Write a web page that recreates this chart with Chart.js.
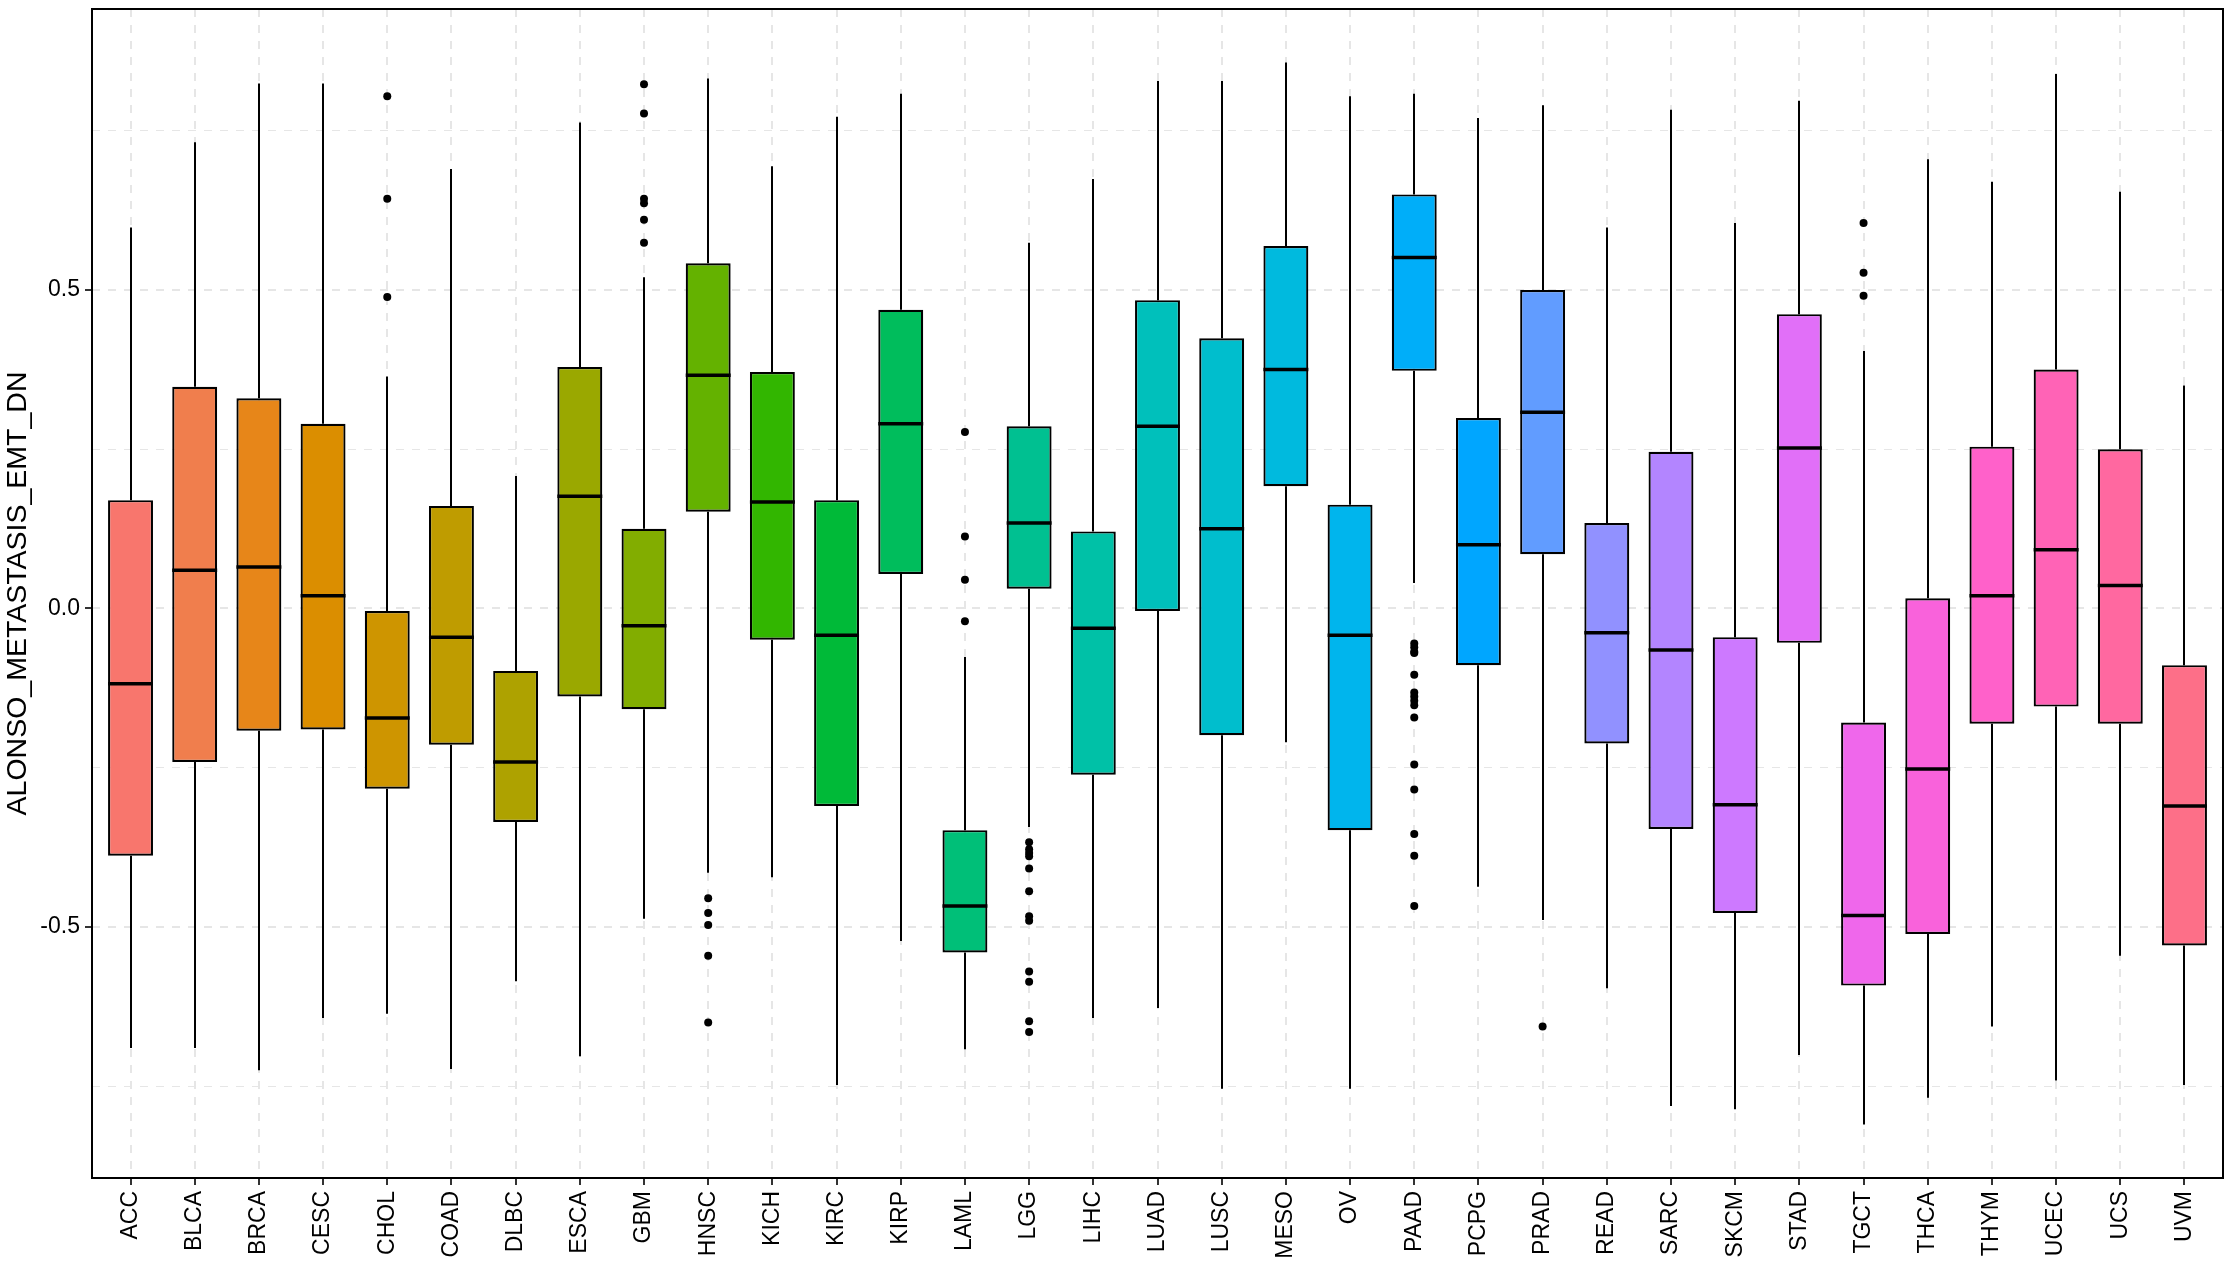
<!DOCTYPE html>
<html><head><meta charset="utf-8">
<script src="https://cdn.jsdelivr.net/npm/chart.js@4"></script>
<style>html,body{margin:0;padding:0;background:#fff}#c{display:block}</style>
</head><body>
<canvas id="c" width="2230" height="1275"></canvas>
<script>
const categories = ['ACC','BLCA','BRCA','CESC','CHOL','COAD','DLBC','ESCA','GBM','HNSC','KICH','KIRC','KIRP','LAML','LGG','LIHC','LUAD','LUSC','MESO','OV','PAAD','PCPG','PRAD','READ','SARC','SKCM','STAD','TGCT','THCA','THYM','UCEC','UCS','UVM'];
const whiskerLow  = [-0.690,-0.690,-0.725,-0.643,-0.636,-0.723,-0.585,-0.703,-0.487,-0.415,-0.422,-0.748,-0.522,-0.692,-0.343,-0.643,-0.627,-0.754,-0.210,-0.754,0.040,-0.437,-0.489,-0.596,-0.781,-0.786,-0.701,-0.810,-0.768,-0.656,-0.741,-0.545,-0.748];
const q1Values    = [-0.388,-0.241,-0.192,-0.190,-0.283,-0.214,-0.335,-0.138,-0.158,0.152,-0.049,-0.310,0.054,-0.540,0.031,-0.261,-0.004,-0.199,0.192,-0.348,0.373,-0.089,0.085,-0.212,-0.346,-0.478,-0.054,-0.592,-0.511,-0.181,-0.154,-0.181,-0.529];
const medianValues= [-0.118,0.060,0.065,0.020,-0.172,-0.045,-0.241,0.176,-0.027,0.366,0.167,-0.042,0.290,-0.467,0.134,-0.031,0.286,0.125,0.375,-0.042,0.551,0.100,0.308,-0.038,-0.065,-0.308,0.252,-0.482,-0.252,0.020,0.092,0.036,-0.310];
const q3Values    = [0.170,0.348,0.330,0.290,-0.004,0.161,-0.098,0.379,0.125,0.542,0.371,0.170,0.469,-0.348,0.286,0.121,0.484,0.424,0.569,0.163,0.650,0.299,0.500,0.134,0.246,-0.045,0.462,-0.179,0.016,0.254,0.375,0.250,-0.089];
const whiskerHigh = [0.598,0.732,0.824,0.824,0.364,0.690,0.208,0.763,0.520,0.832,0.694,0.772,0.808,-0.076,0.574,0.674,0.828,0.828,0.857,0.804,0.808,0.770,0.790,0.598,0.783,0.605,0.797,0.404,0.705,0.670,0.839,0.654,0.350];
const outlierValues = [
  [],[],[],[],
  [0.804,0.643,0.489],
  [],[],[],
  [0.823,0.777,0.643,0.636,0.610,0.574],
  [-0.455,-0.478,-0.497,-0.545,-0.650],
  [],[],[],
  [0.277,0.113,0.045,-0.020],
  [-0.367,-0.378,-0.384,-0.389,-0.408,-0.444,-0.483,-0.490,-0.570,-0.586,-0.648,-0.665],
  [],[],[],[],[],
  [-0.055,-0.061,-0.068,-0.070,-0.104,-0.132,-0.138,-0.145,-0.152,-0.171,-0.245,-0.284,-0.354,-0.388,-0.467],
  [],
  [-0.656],
  [],[],[],[],
  [0.605,0.527,0.491],
  [],[],[],[],[]
];
const yTickValues = [-0.75,-0.5,-0.25,0,0.25,0.5,0.75];
const yLabelValues = [-0.5,0,0.5];
const yLabelTexts = ['-0.5','0.0','0.5'];
const yAxisTitle = 'ALONSO_METASTASIS_EMT_DN';

// ggplot2 default hue palette (hcl, c=100, l=65)
function hcl(h, c, l) {
  const WY = 100, Wu = 0.1978398, Wv = 0.4683363;
  const hr = h * Math.PI / 180;
  const U = c * Math.cos(hr), V = c * Math.sin(hr);
  const Y = WY * (l > 7.999592 ? Math.pow((l + 16) / 116, 3) : l / 903.3);
  const u = U / (13 * l) + Wu, v = V / (13 * l) + Wv;
  const X = 9 * Y * u / (4 * v);
  const Z = -X / 3 - 5 * Y + 3 * Y / v;
  const g = t => t > 0.00304 ? 1.055 * Math.pow(t, 1 / 2.4) - 0.055 : 12.92 * t;
  const to = t => Math.round(Math.max(0, Math.min(1, g(t))) * 255);
  const r = to((3.240479 * X - 1.537150 * Y - 0.498535 * Z) / WY);
  const gg = to((-0.969256 * X + 1.875992 * Y + 0.041556 * Z) / WY);
  const b = to((0.055648 * X - 0.204043 * Y + 1.057311 * Z) / WY);
  return `rgb(${r},${gg},${b})`;
}
const n = categories.length;
const fillColors = categories.map((_, i) => hcl(15 + 360 * i / n, 100, 65));

const boxData = categories.map((c, i) => ({x: i, y: [q1Values[i], q3Values[i]]}));
const outlierData = [];
outlierValues.forEach((arr, i) => arr.forEach(v => outlierData.push({x: i, y: v})));

const FONT = "'Liberation Sans', Arial, sans-serif";

const boxParts = {
  id: 'boxParts',
  beforeDatasetsDraw(chart) {
    const {ctx, scales: {x, y}} = chart;
    ctx.save();
    ctx.strokeStyle = '#000';
    ctx.lineWidth = 2;
    categories.forEach((c, i) => {
      const px = Math.round(x.getPixelForValue(i));
      ctx.beginPath();
      ctx.moveTo(px, y.getPixelForValue(q3Values[i]));
      ctx.lineTo(px, y.getPixelForValue(whiskerHigh[i]));
      ctx.moveTo(px, y.getPixelForValue(q1Values[i]));
      ctx.lineTo(px, y.getPixelForValue(whiskerLow[i]));
      ctx.stroke();
    });
    ctx.restore();
  },
  afterDatasetsDraw(chart) {
    const {ctx, scales: {y}, chartArea: a} = chart;
    const meta = chart.getDatasetMeta(0);
    ctx.save();
    ctx.strokeStyle = '#000';
    ctx.lineWidth = 3.5;
    meta.data.forEach((bar, i) => {
      const py = y.getPixelForValue(medianValues[i]);
      ctx.beginPath();
      ctx.moveTo(bar.x - bar.width / 2, py);
      ctx.lineTo(bar.x + bar.width / 2, py);
      ctx.stroke();
    });
    ctx.lineWidth = 2;
    ctx.strokeRect(a.left, a.top, a.right - a.left, a.bottom - a.top);
    ctx.restore();
  }
};

const zeroPad = s => { s.paddingTop = 0; s.paddingBottom = 0; s.paddingLeft = 0; s.paddingRight = 0; };

new Chart(document.getElementById('c'), {
  type: 'bar',
  data: {
    datasets: [
      {
        type: 'bar',
        data: boxData,
        backgroundColor: fillColors,
        borderColor: '#000',
        borderWidth: 2.2,
        borderSkipped: false,
        barPercentage: 0.7,
        categoryPercentage: 1,
        order: 1
      },
      {
        type: 'scatter',
        data: outlierData,
        backgroundColor: '#000',
        borderWidth: 0,
        pointRadius: 4,
        showLine: false,
        order: 0
      }
    ]
  },
  options: {
    responsive: false,
    animation: false,
    devicePixelRatio: 1,
    layout: {padding: {top: 9, right: 7, left: 0, bottom: 0}},
    plugins: {legend: {display: false}, tooltip: {enabled: false}},
    scales: {
      x: {
        type: 'linear',
        min: -0.6, max: 32.6,
        offset: false,
        afterBuildTicks: s => { s.ticks = categories.map((c, i) => ({value: i})); },
        afterFit: s => { s.height = 97; zeroPad(s); },
        ticks: {
          autoSkip: false,
          minRotation: 90, maxRotation: 90,
          padding: 6,
          color: '#000',
          font: {family: FONT, size: 23},
          callback: v => categories[v]
        },
        grid: {
          offset: false,
          color: '#e6e6e6',
          lineWidth: 2,
          tickLength: 7,
          tickColor: '#333',
          tickWidth: 2
        },
        border: {display: false, dash: [8, 8]}
      },
      y: {
        type: 'linear',
        min: -0.894, max: 0.941,
        afterBuildTicks: s => { s.ticks = yTickValues.map(v => ({value: v})); },
        afterFit: s => { s.width = 92; zeroPad(s); },
        ticks: {
          padding: 5,
          color: '#000',
          font: {family: FONT, size: 23},
          callback: v => { const k = yLabelValues.findIndex(t => Math.abs(t - v) < 1e-9); return k >= 0 ? yLabelTexts[k] : ''; }
        },
        grid: {
          color: '#e6e6e6',
          lineWidth: c => (yLabelValues.some(t => Math.abs(t - c.tick.value) < 1e-9) ? 2 : 1),
          tickLength: 7,
          tickColor: c => (yLabelValues.some(t => Math.abs(t - c.tick.value) < 1e-9) ? '#333' : 'rgba(0,0,0,0)'),
          tickWidth: 2
        },
        border: {display: false, dash: [8, 8]},
        title: {
          display: true,
          text: yAxisTitle,
          color: '#000',
          font: {family: FONT, size: 28.5},
          padding: {top: 1, bottom: 0}
        }
      }
    }
  },
  plugins: [boxParts]
});
</script>
</body></html>
